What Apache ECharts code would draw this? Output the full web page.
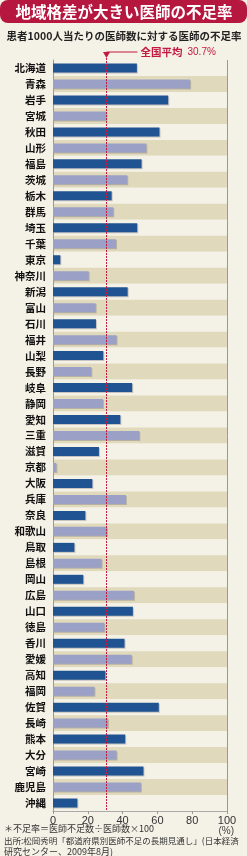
<!DOCTYPE html>
<html lang="ja">
<head>
<meta charset="UTF-8">
<title>地域格差が大きい医師の不足率</title>
<script src="https://cdn.jsdelivr.net/npm/echarts@6/dist/echarts.min.js"></script>
<style>
  html, body { margin: 0; padding: 0; background: #f4f1e6; }
  #main { width: 247px; height: 856px; }
</style>
</head>
<body>
<div id="main"></div>
<script type="text/javascript">
// 都道府県
var prefs = ['北海道', '青森', '岩手', '宮城', '秋田', '山形', '福島', '茨城', '栃木', '群馬',
    '埼玉', '千葉', '東京', '神奈川', '新潟', '富山', '石川', '福井', '山梨', '長野',
    '岐阜', '静岡', '愛知', '三重', '滋賀', '京都', '大阪', '兵庫', '奈良', '和歌山',
    '鳥取', '島根', '岡山', '広島', '山口', '徳島', '香川', '愛媛', '高知', '福岡',
    '佐賀', '長崎', '熊本', '大分', '宮崎', '鹿児島', '沖縄'];
// 不足率(%)
var shortage = [48.2, 78.8, 66.2, 30.6, 61.2, 53.6, 50.9, 42.7, 33.7, 34.6,
    48.4, 36.2, 4.2, 20.5, 42.9, 24.5, 24.7, 36.5, 28.9, 22.0,
    45.5, 28.7, 38.7, 49.6, 26.4, 1.9, 22.6, 41.9, 18.6, 31.0,
    12.3, 27.9, 17.4, 46.5, 45.9, 29.5, 41.1, 45.2, 30.1, 23.8,
    60.8, 31.6, 41.5, 36.5, 52.0, 50.5, 14.0];
var nationalAvg = 30.7;
var xTicks = [0, 20, 40, 60, 80, 100];

var jp = '"Noto Sans CJK JP", "Noto Sans", sans-serif';
var chart = echarts.init(document.getElementById('main'));

var option = {
    backgroundColor: '#f4f1e6',
    animation: false,
    grid: { left: 53, right: 20, top: 60, height: 751 },
    xAxis: {
        type: 'value',
        min: xTicks[0],
        max: xTicks[xTicks.length - 1],
        interval: xTicks[1] - xTicks[0],
        axisLine: { show: true, lineStyle: { color: '#aaa', width: 1 } },
        axisTick: { show: true, length: 3, lineStyle: { color: '#999' } },
        axisLabel: { color: '#333', fontSize: 11, fontFamily: 'Liberation Sans, sans-serif', margin: 4 },
        splitLine: { show: false }
    },
    yAxis: {
        type: 'category',
        data: prefs,
        inverse: true,
        axisLine: { show: true, lineStyle: { color: '#999', width: 1 } },
        axisTick: { show: false },
        axisLabel: { color: '#111', fontSize: 10.5, fontWeight: 'bold', fontFamily: jp, margin: 7 },
        splitArea: { show: true, areaStyle: { color: ['#f4f1e6', '#e1d9bc'] } }
    },
    series: [{
        type: 'bar',
        data: shortage,
        barWidth: 9,
        silent: true,
        itemStyle: {
            color: function (p) { return p.dataIndex % 2 === 0 ? '#1f5391' : '#9aa0c6'; },
            shadowColor: 'rgba(60,60,80,0.25)',
            shadowOffsetX: 1,
            shadowOffsetY: 1
        },
        markLine: {
            silent: true,
            symbol: 'none',
            label: { show: false },
            lineStyle: { color: '#999', type: 'solid', width: 1 },
            data: [{ xAxis: xTicks[xTicks.length - 1] }]
        }
    }]
};
chart.setOption(option);

// 全国平均ライン
var ax = Math.round(chart.convertToPixel({ xAxisIndex: 0 }, nationalAvg)) + 0.5;
var yBottom = 60 + 751;
chart.setOption({
    graphic: [
        { type: 'rect', shape: { x: 0, y: 0, width: 247, height: 23, r: 8 }, style: { fill: '#b5173f' } },
        { type: 'text', x: 124, y: 12, style: { text: '地域格差が大きい医師の不足率', fill: '#fff',
            font: 'bold 15.5px ' + jp, textAlign: 'center', textVerticalAlign: 'middle' } },
        { type: 'text', x: 124, y: 36, style: { text: '患者1000人当たりの医師数に対する医師の不足率', fill: '#222',
            font: 'bold 10.5px ' + jp, textAlign: 'center', textVerticalAlign: 'middle' } },
        { type: 'line', z: 100, shape: { x1: ax, y1: 52, x2: ax, y2: yBottom },
            style: { stroke: '#c41a40', lineWidth: 1, lineDash: [2, 1] } },
        { type: 'line', z: 100, shape: { x1: ax, y1: 52, x2: ax + 31, y2: 52 },
            style: { stroke: '#c41a40', lineWidth: 1 } },
        { type: 'polygon', z: 101, shape: { points: [[ax - 3.5, 52], [ax + 3.5, 52], [ax, 58]] },
            style: { fill: '#c41a40' } },
        { type: 'text', x: ax + 34, y: 52, style: { text: '全国平均', fill: '#c41a40',
            font: 'bold 10.5px ' + jp, textVerticalAlign: 'middle' } },
        { type: 'text', x: ax + 81, y: 52, style: { text: nationalAvg.toFixed(1) + '%', fill: '#c41a40',
            font: '10px Liberation Sans, sans-serif', textVerticalAlign: 'middle' } },
        { type: 'text', x: 234, y: 831, style: { text: '(%)', fill: '#444',
            font: '10px Liberation Sans, sans-serif', textAlign: 'right', textVerticalAlign: 'middle' } },
        { type: 'text', x: 4, y: 829, style: { text: '＊不足率＝医師不足数÷医師数×100', fill: '#333',
            font: '9px ' + jp, textVerticalAlign: 'middle' } },
        { type: 'text', x: 4, y: 841, style: { text: '出所:松岡秀明「都道府県別医師不足の長期見通し」(日本経済', fill: '#333',
            font: '8.5px ' + jp, textVerticalAlign: 'middle' } },
        { type: 'text', x: 4, y: 852, style: { text: '研究センター、2009年8月)', fill: '#333',
            font: '9px ' + jp, textVerticalAlign: 'middle' } }
    ]
});
</script>
</body>
</html>
